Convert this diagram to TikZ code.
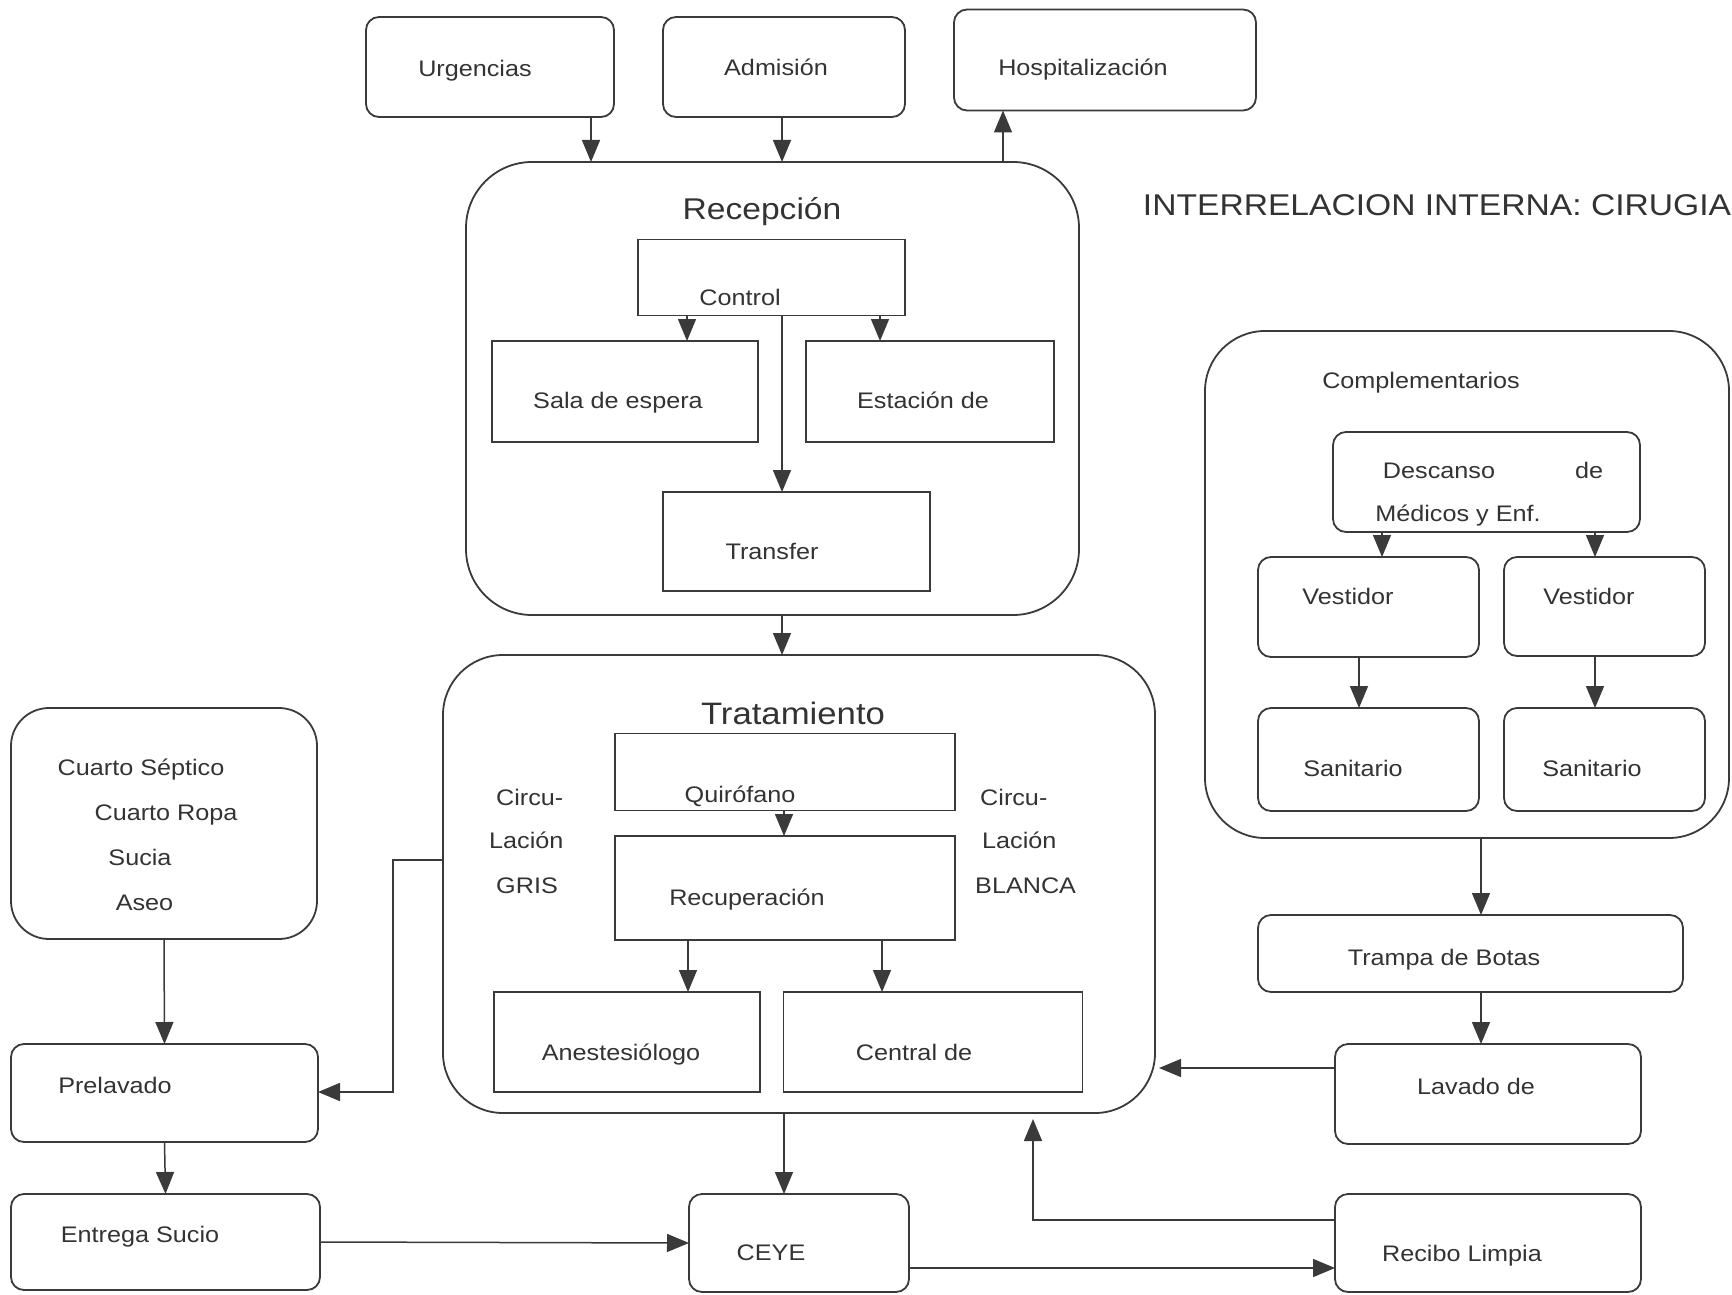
\documentclass[tikz,border=0pt]{standalone}
\usepackage{fontspec}
\setmainfont{Liberation Sans}[FakeStretch=1.12]
\usetikzlibrary{arrows.meta}
\definecolor{lnc}{HTML}{3A3A3A}
\definecolor{txc}{HTML}{333333}
\begin{document}
\begin{tikzpicture}[x=1pt,y=-1pt,
  box/.style={draw=lnc,line width=1.8pt,inner sep=0pt,outer sep=0pt},
  rbox/.style={box,rounded corners=13pt},
  bigbox/.style={box,rounded corners=62pt},
  lbl/.style={text=txc,font=\fontsize{22.5}{27}\selectfont,inner sep=0pt,anchor=mid,yshift=-6pt},
  lbll/.style={lbl,anchor=mid west},
  head/.style={text=txc,font=\fontsize{30}{36}\selectfont,inner sep=0pt,anchor=mid,yshift=-7pt},
  arr/.style={draw=lnc,line width=1.5pt,-{Triangle[width=18pt,length=22pt]}}]
\fill[white] (0,0) rectangle (1732,1295);
\useasboundingbox (0,0) rectangle (1732,1295);

% top boxes
\node[rbox,minimum width=248pt,minimum height=100pt] (urg) at (490,67) {};
\node[rbox,minimum width=242pt,minimum height=100pt] (adm) at (784,67) {};
\node[rbox,minimum width=302pt,minimum height=101pt] (hosp) at (1105,60) {};
\node[lbl] (turg) at (475,68) {Urgencias};
\node[lbl] (tadm) at (776,67) {Admisión};
\node[lbl] (thosp) at (1083,67) {Hospitalización};

% title
\node[head] (title) at (1437,206) {INTERRELACION INTERNA: CIRUGIA};

% Recepcion
\node[bigbox,rounded corners=66pt,minimum width=613pt,minimum height=453pt] (rec) at (772.5,388.5) {};
\node[head] (trec) at (762,210) {Recepción};
\node[box,minimum width=267pt,minimum height=76pt] (ctrl) at (771.5,277.5) {};
\node[box,minimum width=266pt,minimum height=101pt] (sala) at (625,391.5) {};
\node[box,minimum width=248pt,minimum height=101pt] (est) at (930,391.5) {};
\node[box,minimum width=267pt,minimum height=99pt] (transf) at (796.5,541.5) {};
\node[lbl] (tctrl) at (740,297) {Control};
\node[lbl] (tsala) at (618,400) {Sala de espera};
\node[lbl] (test) at (923,400) {Estación de};
\node[lbl] (ttransf) at (772,551) {Transfer};

% Tratamiento
\node[bigbox,rounded corners=60pt,minimum width=712pt,minimum height=458pt] (trat) at (799,884) {};
\node[head,font=\fontsize{31}{37}\selectfont] (ttrat) at (793,715) {Tratamiento};
\node[box,minimum width=340pt,minimum height=77pt] (quir) at (785,772) {};
\node[box,minimum width=340pt,minimum height=104pt] (recup) at (785,888) {};
\node[box,minimum width=266pt,minimum height=100pt] (anest) at (627,1042) {};
\node[box,minimum width=299pt,minimum height=100pt] (central) at (933,1042) {};
\node[lbl] (tquir) at (740,794) {Quirófano};
\node[lbl] (trecup) at (747,897) {Recuperación};
\node[lbl] (tanest) at (621,1052) {Anestesiólogo};
\node[lbl] (tcentral) at (914,1052) {Central de};
\node[lbll] (cg1) at (496,797) {Circu-};
\node[lbll] (cg2) at (489,840) {Lación};
\node[lbll] (cg3) at (496,885) {GRIS};
\node[lbll] (cb1) at (980,797) {Circu-};
\node[lbll] (cb2) at (982,840) {Lación};
\node[lbll] (cb3) at (975,885) {BLANCA};

% left column
\node[box,rounded corners=38pt,minimum width=306pt,minimum height=231pt] (cuarto) at (164,823.5) {};
\node[rbox,minimum width=307pt,minimum height=98pt] (prel) at (164.5,1093) {};
\node[rbox,minimum width=309pt,minimum height=96pt] (entrega) at (165.5,1242) {};
\node[lbl] (tc1) at (141,767) {Cuarto Séptico};
\node[lbl] (tc2) at (166,812) {Cuarto Ropa};
\node[lbl] (tc3) at (140,857) {Sucia};
\node[lbl] (tc4) at (144.5,902) {Aseo};
\node[lbl] (tprel) at (115,1085) {Prelavado};
\node[lbl] (tentrega) at (140,1234) {Entrega Sucio};

% bottom
\node[rbox,minimum width=220pt,minimum height=98pt] (ceye) at (799,1243) {};
\node[rbox,minimum width=306pt,minimum height=98pt] (recibo) at (1488,1243) {};
\node[rbox,minimum width=306pt,minimum height=100pt] (lavado) at (1488,1094) {};
\node[rbox,minimum width=425pt,minimum height=77pt] (trampa) at (1470.5,953.5) {};
\node[lbl] (tceye) at (771,1252) {CEYE};
\node[lbl] (trecibo) at (1462,1253) {Recibo Limpia};
\node[lbl] (tlavado) at (1476,1086) {Lavado de};
\node[lbl] (ttrampa) at (1444,957) {Trampa de Botas};

% Complementarios
\node[bigbox,rounded corners=60pt,minimum width=524pt,minimum height=507pt] (comp) at (1467,584.5) {};
\node[rbox,minimum width=307pt,minimum height=100pt] (desc) at (1486.5,482) {};
\node[rbox,minimum width=221pt,minimum height=100pt] (vestl) at (1368.5,607) {};
\node[rbox,minimum width=201pt,minimum height=99pt] (vestr) at (1604.5,606.5) {};
\node[rbox,minimum width=221pt,minimum height=103pt] (sanl) at (1368.5,759.5) {};
\node[rbox,minimum width=201pt,minimum height=103pt] (sanr) at (1604.5,759.5) {};
\node[lbl] (tcomp) at (1421,380) {Complementarios};
\node[lbl] (tdesc) at (1439,470) {Descanso};
\node[lbl] (tde) at (1589,470) {de};
\node[lbl] (tmed) at (1458,513) {Médicos y Enf.};
\node[lbl] (tvl) at (1348,596) {Vestidor};
\node[lbl] (tvr) at (1589,596) {Vestidor};
\node[lbl] (tsl) at (1353,768) {Sanitario};
\node[lbl] (tsr) at (1592,768) {Sanitario};

% connectors
\draw[arr] (591,0 |- urg.south) -- (591,0 |- rec.north);
\draw[arr] (782,0 |- adm.south) -- (782,0 |- rec.north);
\draw[arr] (1003,0 |- rec.north) -- (1003,0 |- hosp.south);
\draw[arr] (687,0 |- ctrl.south) -- (687,0 |- sala.north);
\draw[arr] (880,0 |- ctrl.south) -- (880,0 |- est.north);
\draw[arr] (782,0 |- ctrl.south) -- (782,0 |- transf.north);
\draw[arr] (782,0 |- rec.south) -- (782,0 |- trat.north);
\draw[arr] (784,0 |- quir.south) -- (784,0 |- recup.north);
\draw[arr] (688,0 |- recup.south) -- (688,0 |- anest.north);
\draw[arr] (882,0 |- recup.south) -- (882,0 |- central.north);
\draw[arr] (cuarto.south) -- (prel.north);
\draw[arr] (prel.south) -- (entrega.north);
\coordinate (gbend) at (393,1092);
\draw[arr] (trat.west |- 0,860) -| (gbend) -- (prel.east |- gbend);
\draw[arr] (784,0 |- trat.south) -- (784,0 |- ceye.north);
\draw[arr] (entrega.east) -- (ceye.west);
\draw[arr] (ceye.east |- 0,1268) -- (recibo.west |- 0,1268);
\coordinate (rtip) at (1033,1119);
\draw[arr] (recibo.west |- 0,1220) -| (rtip);
\coordinate (ltip) at (1159,1068);
\draw[arr] (lavado.west |- ltip) -- (ltip);
\draw[arr] (1481,0 |- comp.south) -- (1481,0 |- trampa.north);
\draw[arr] (1481,0 |- trampa.south) -- (1481,0 |- lavado.north);
\draw[arr] (1382,0 |- desc.south) -- (1382,0 |- vestl.north);
\draw[arr] (1595,0 |- desc.south) -- (1595,0 |- vestr.north);
\draw[arr] (1359,0 |- vestl.south) -- (1359,0 |- sanl.north);
\draw[arr] (1595,0 |- vestr.south) -- (1595,0 |- sanr.north);
\end{tikzpicture}
\end{document}
